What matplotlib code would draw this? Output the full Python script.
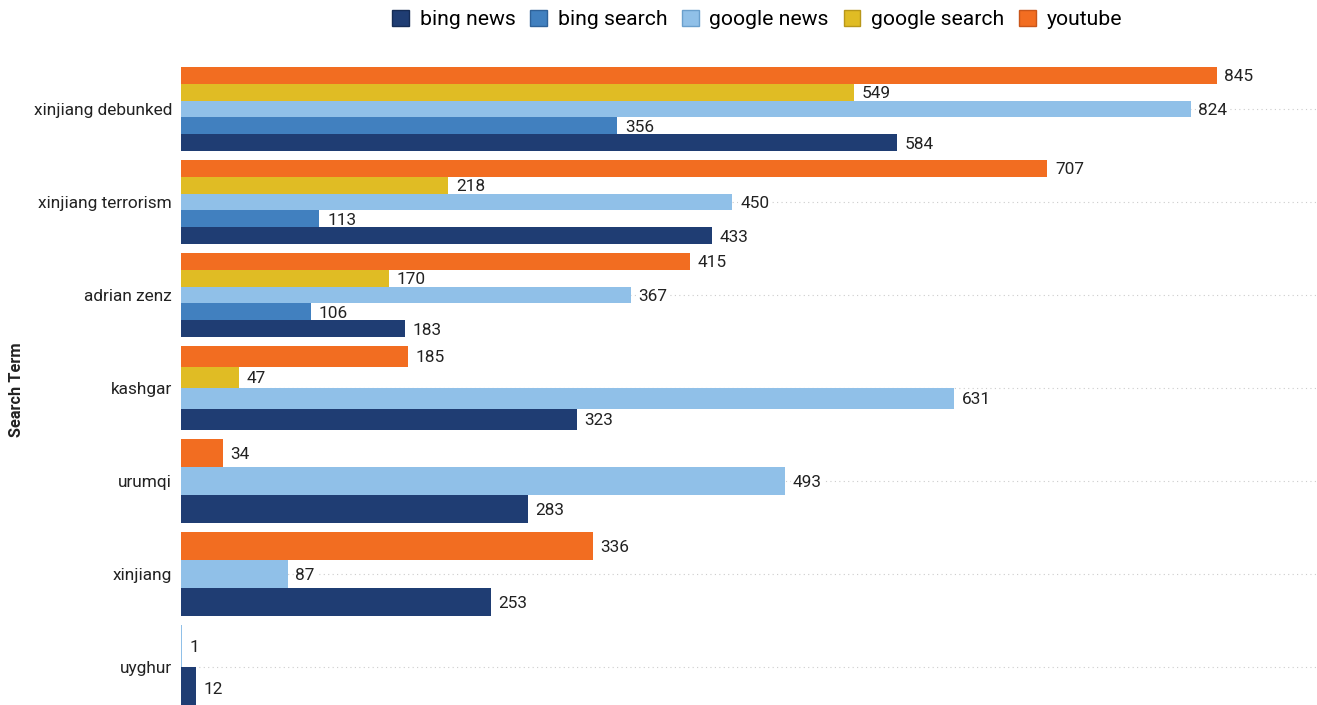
import numpy as np
import matplotlib as mpl
import matplotlib.pyplot as plt
from matplotlib.patches import Patch

# Plotting setup
mpl.rcParams['font.family']=['Roboto','DejaVu Sans']
txsize=12.4

terms=['xinjiang debunked','xinjiang terrorism','adrian zenz','kashgar','urumqi','xinjiang','uyghur']
series=['bing news','bing search','google news','google search','youtube']
bing_news=[584,433,183,323,283,253,12]
bing_search=[356,113,106,None,None,None,None]
google_news=[824,450,367,631,493,87,1]
google_search=[549,218,170,47,None,None,None]
youtube=[845,707,415,185,34,336,None]
colors=['#1f3d73','#4180bf','#90c0e8','#e0bc24','#f26d21']
edges=['#152c55','#2f6299','#6a9fcc','#b8971a','#c9561a']

allvals=[bing_news,bing_search,google_news,google_search,youtube]

fig=plt.figure(figsize=(13.17,7.05),dpi=100)
ax=fig.add_axes([181/1317,0,(1317-181)/1317,(705-62.5)/705])

grp_h=0.903
for i,term in enumerate(terms):
    present=[s for s in range(len(series)) if allvals[s][i] is not None]
    n=len(present)
    bh=grp_h/n
    top=i-grp_h/2
    # youtube on top, bing news at bottom
    for k,s in enumerate(reversed(present)):
        v=allvals[s][i]
        yc=top+bh*(k+0.5)
        ax.barh(yc,v,height=bh,color=colors[s],edgecolor='none',zorder=2)
        # white box hides the dotted grid but sits under the bars
        ax.annotate('%d'%v,(v,yc),xytext=(5.5,0),textcoords='offset points',
                    ha='left',va='center_baseline',fontsize=txsize,color='#222222',zorder=1.5,
                    bbox=dict(boxstyle='square,pad=0.1',fc='white',ec='none'))

ax.set_yticks(range(len(terms)))
ax.set_yticklabels(terms,fontsize=txsize,color='#222222')
ax.set_ylim(6.409,-0.5)
ax.set_xlim(0,927)
ax.set_xticks([])
ax.tick_params(axis='y',length=0,pad=6.5)
for sp in ax.spines.values():
    sp.set_visible(False)
ax.yaxis.grid(True,linestyle=(0,(1,3)),color='#cccccc',linewidth=0.8,zorder=0)
ax.set_axisbelow(True)
fig.text(17/1317,1-390/705,'Search Term',rotation=90,ha='center',va='center',
         fontsize=11.8,fontweight='bold',color='#222222')

handles=[Patch(facecolor=c,edgecolor=e,label=l) for c,e,l in zip(colors,edges,series)]
fig.legend(handles=handles,loc='center',bbox_to_anchor=(757/1317,1-19.5/705),ncol=5,
           frameon=False,fontsize=15.2,handlelength=0.8,handleheight=0.8,
           handletextpad=0.5,columnspacing=0.7)

fig.savefig('out.png',dpi=100)
